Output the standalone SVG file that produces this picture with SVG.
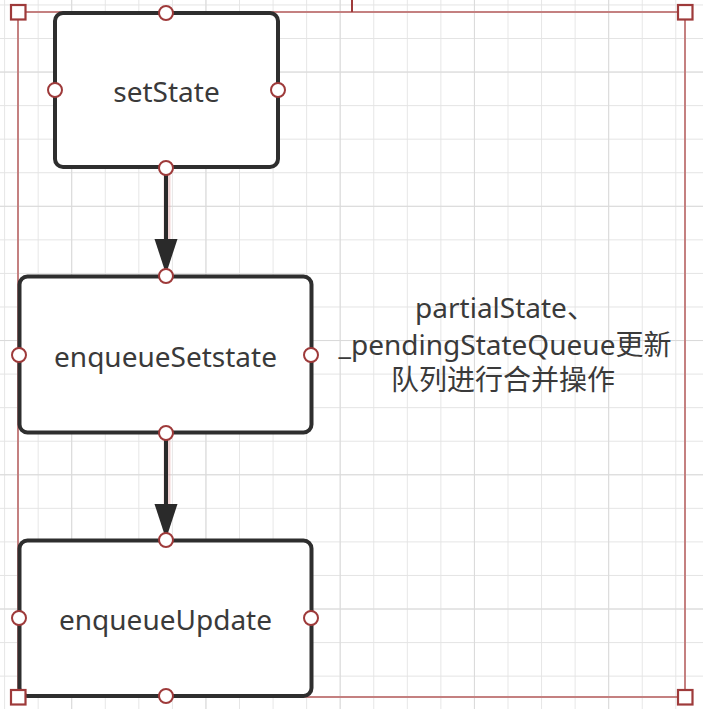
<svg xmlns="http://www.w3.org/2000/svg" width="703" height="709" viewBox="0 0 703 709">
  <style>
    .node { fill: #ffffff; stroke: #2e2e2e; stroke-width: 4; }
    .port { fill: #ffffff; stroke: #9e3a3a; stroke-width: 2; }
    .label { font-family: "Noto Sans", "Liberation Sans", "Noto Sans CJK SC", sans-serif; font-size: 28px; fill: #3a3a3a; text-anchor: middle; }
    .note { font-family: "Noto Sans", "Liberation Sans", "Noto Sans CJK SC", sans-serif; font-size: 28px; fill: #3a3a3a; text-anchor: middle; }
    .frame { fill: none; stroke: #c48080; stroke-width: 2; }
    .handle { fill: #ffffff; stroke: #9e3a3a; stroke-width: 2.2; }
    .shaft { stroke: #2a2a2a; stroke-width: 4; fill: none; }
    .glow { stroke: #e3a0a0; stroke-width: 7; fill: none; opacity: 0.45; }
    .head { fill: #2a2a2a; }
  </style>
  <defs>
    <pattern id="grid" patternUnits="userSpaceOnUse" x="4.1" y="4.44" width="33.56" height="33.56">
      <path d="M0 0 H33.56 M0 0 V33.56" stroke="#e4e4e4" stroke-width="1.8" fill="none"/>
    </pattern>
    <pattern id="gridMajor" patternUnits="userSpaceOnUse" x="71.2" y="71.56" width="134.24" height="134.24">
      <path d="M0 0 H134.24 M0 0 V134.24" stroke="#dadada" stroke-width="2" fill="none"/>
    </pattern>
  </defs>

  <rect width="703" height="709" fill="#ffffff"/>
  <rect width="703" height="709" fill="url(#grid)"/>
  <rect width="703" height="709" fill="url(#gridMajor)"/>

  <!-- selection frame -->
  <g id="selection-frame">
    <rect class="frame" x="18" y="12" width="667" height="685"/>
    <line x1="352" y1="0" x2="352" y2="12" stroke="#9e3a3a" stroke-width="2"/>
  </g>

  <!-- connectors -->
  <g id="connectors">
    <g id="edge-setState-enqueueSetstate">
      <line class="glow" x1="167" y1="170" x2="167" y2="240"/>
      <line class="shaft" x1="166" y1="168" x2="166" y2="242"/>
      <polygon class="head" points="154.5,239 177.5,239 166,274"/>
    </g>
    <g id="edge-enqueueSetstate-enqueueUpdate">
      <line class="glow" x1="167" y1="435" x2="167" y2="505"/>
      <line class="shaft" x1="166" y1="433" x2="166" y2="507"/>
      <polygon class="head" points="154.5,504 177.5,504 166,539"/>
    </g>
  </g>

  <g id="node-setState">
    <rect class="node" x="55" y="13" width="223" height="154" rx="8"/>
    <text class="label" x="166.5" y="102">setState</text>
    <circle class="port" cx="166" cy="13" r="7"/>
    <circle class="port" cx="55" cy="90" r="7"/>
    <circle class="port" cx="278" cy="90" r="7"/>
    <circle class="port" cx="166" cy="168" r="7"/>
  </g>

  <g id="node-enqueueSetstate">
    <rect class="node" x="19.5" y="276.5" width="292" height="156" rx="8"/>
    <text class="label" x="165.5" y="367">enqueueSetstate</text>
    <circle class="port" cx="166" cy="276" r="7"/>
    <circle class="port" cx="19" cy="355" r="7"/>
    <circle class="port" cx="311" cy="355" r="7"/>
    <circle class="port" cx="166" cy="433" r="7"/>
  </g>

  <g id="node-enqueueUpdate">
    <rect class="node" x="19.5" y="540.5" width="292" height="155.5" rx="8"/>
    <text class="label" x="165.5" y="630">enqueueUpdate</text>
    <circle class="port" cx="166" cy="540" r="7"/>
    <circle class="port" cx="19" cy="618" r="7"/>
    <circle class="port" cx="311" cy="618" r="7"/>
    <circle class="port" cx="166" cy="696" r="7"/>
  </g>

  <g id="note">
    <text class="note" x="505" y="318">partialState、</text>
    <text class="note" x="505" y="355">_pendingStateQueue更新</text>
    <text class="note" x="503" y="390">队列进行合并操作</text>
  </g>

  <g id="selection-handles">
    <rect class="handle" x="11" y="5" width="14.5" height="14.5"/>
    <rect class="handle" x="678" y="5" width="14.5" height="14.5"/>
    <rect class="handle" x="11" y="690" width="14.5" height="14.5"/>
    <rect class="handle" x="678" y="690" width="14.5" height="14.5"/>
  </g>
</svg>
